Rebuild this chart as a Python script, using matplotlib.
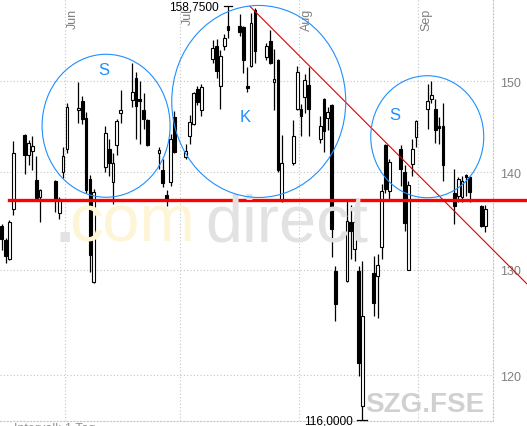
import matplotlib
matplotlib.use("Agg")
import matplotlib.pyplot as plt
import matplotlib.dates as mdates
from matplotlib.patches import Ellipse
from matplotlib.transforms import IdentityTransform
import numpy as np
import pandas as pd

plt.rcParams['font.family'] = ['Liberation Sans', 'DejaVu Sans']

# daily candles, Whit Monday closed
days = pd.bdate_range('2007-05-15', '2007-09-18').drop(pd.Timestamp('2007-05-28'))

opens = [134.4, 133.0, 131.1, 136.1, 144.0, 141.8, 142.2, 139.2, 137.4, 139.1, 135.7, 140.0,
         142.5, 146.8, 147.8, 145.9, 139.3, 128.8, 140.5, 142.5, 138.9, 142.9, 146.4, 147.9,
         150.3, 148.0, 146.7, 145.6, 142.0, 140.2, 137.6, 138.9, 146.0,
         141.6, 143.9, 145.2, 149.1, 146.7, 152.5, 154.0, 149.4, 154.0, 156.4, 156.4, 156.3,
         149.4, 151.7, 158.3, 152.8, 154.6, 149.9, 152.4, 137.0, 141.0, 146.9,
         146.9, 148.2, 149.5, 143.6, 148.0, 145.9, 147.3, 129.9, 128.9, 134.8, 132.1, 129.9,
         117.2, 129.7, 129.4, 132.3, 142.9, 138.0, 142.5, 140.0, 130.0, 140.9, 143.8,
         146.9, 148.0, 146.9, 145.0, 145.0, 137.8, 137.5, 137.4, 139.7, 139.5, 136.4, 134.4]
highs = [134.6, 133.2, 135.0, 143.3, 144.1, 143.4, 143.9, 141.7, 138.2, 139.2, 137.4, 142.7,
         147.5, 149.9, 148.3, 146.5, 139.7, 138.2, 145.0, 143.6, 142.0, 145.8, 149.0, 152.1,
         151.0, 150.0, 148.7, 145.8, 142.7, 141.4, 138.1, 144.1, 146.6,
         143.0, 146.2, 148.8, 149.4, 149.7, 154.7, 154.9, 153.6, 155.4, 158.75, 157.8, 156.4,
         151.6, 158.0, 158.5, 154.4, 155.9, 153.7, 152.5, 144.0, 145.6, 151.7,
         147.4, 150.8, 151.6, 146.1, 148.1, 147.1, 147.4, 130.4, 137.0, 136.5, 135.5, 130.4,
         130.9, 131.4, 131.6, 138.7, 143.0, 141.4, 142.9, 140.7, 139.0, 143.6, 145.6,
         149.7, 150.0, 148.0, 146.0, 147.5, 140.3, 139.5, 139.6, 139.8, 139.6, 136.5, 136.5]
lows = [132.0, 130.7, 131.0, 135.5, 139.8, 140.7, 140.2, 137.2, 134.8, 135.8, 135.1, 139.4,
        142.0, 145.3, 145.2, 137.8, 129.8, 128.7, 140.0, 139.6, 136.6, 141.8, 145.3, 147.1,
        143.6, 143.0, 144.6, 142.8, 140.3, 138.4, 136.4, 138.5, 142.0,
        141.4, 143.0, 145.1, 147.3, 146.1, 152.1, 150.4, 146.9, 153.6, 155.0, 155.2, 150.9,
        148.8, 151.6, 152.1, 152.4, 152.0, 146.7, 140.0, 136.9, 140.7, 146.8,
        143.9, 146.4, 143.9, 143.1, 142.1, 144.5, 131.3, 125.0, 128.8, 131.1, 130.9, 119.9,
        116.0, 125.5, 125.3, 131.1, 137.8, 137.1, 138.5, 133.9, 130.0, 139.6, 142.7,
        144.7, 147.5, 143.1, 143.0, 139.1, 134.6, 136.8, 136.8, 137.5, 136.8, 134.3, 133.8]
closes = [133.1, 131.4, 134.8, 142.0, 141.8, 143.1, 142.8, 137.3, 138.1, 137.2, 137.2, 141.7,
          147.1, 147.0, 145.8, 138.1, 131.5, 137.9, 144.2, 141.0, 141.0, 145.5, 146.8, 148.8,
          147.2, 147.7, 145.8, 142.9, 142.4, 138.8, 137.2, 143.6, 142.1,
          142.3, 145.4, 148.6, 147.6, 149.3, 153.8, 151.1, 152.9, 155.0, 155.9, 155.7, 152.4,
          149.2, 156.8, 153.5, 154.0, 152.1, 150.2, 140.2, 141.0, 143.9, 151.0,
          146.1, 150.1, 146.9, 145.0, 144.4, 146.5, 134.1, 126.7, 134.9, 133.9, 134.8, 121.1,
          125.5, 126.8, 130.5, 138.0, 138.2, 141.1, 140.3, 134.7, 138.6, 142.5, 145.5,
          147.8, 148.4, 144.5, 144.8, 140.7, 136.4, 139.3, 139.1, 139.5, 137.9, 134.4, 136.1]

support = 137.1
trend_dates = ['2007-07-19 05:00', '2007-09-29 10:00']
trend_prices = [158.75, 128.6]

month_starts = ['2007-06-01', '2007-07-01', '2007-08-01', '2007-09-01']
month_labels = ['Jun', 'Jul', 'Aug', 'Sep']
y_ticks = [120, 130, 140, 150]

# head-and-shoulders marks: label, label date, label price, ring centre date, ring centre price
pattern_labels = ['S', 'K', 'S']
label_dates = ['2007-06-11 05:00', '2007-07-18 01:30', '2007-08-26 00:00']
label_prices = [151.3, 146.0, 146.3]
ring_dates = ['2007-06-11 17:00', '2007-07-21 12:00', '2007-09-03 10:00']
ring_prices = [145.0, 147.7, 143.8]
ring_sizes = [(128, 143), (174, 192), (113, 122)]

W, H = 527, 427
fig = plt.figure(figsize=(W / 100, H / 100), dpi=100)
ax = fig.add_axes([0, 5 / H, 493 / W, 422 / H])

o = np.array(opens)
h = np.array(highs)
l = np.array(lows)
c = np.array(closes)
x = mdates.date2num(days) + 0.5
up = c >= o

jun1 = mdates.date2num(pd.Timestamp('2007-06-01'))
ax.set_xlim(jun1 - 16.94, jun1 + 111.55)
ax.set_yscale('log')
ax.set_ylim(115.9, 159.64)

# watermark
gray_wm = '#e2e2e2'
yel_wm = '#fdf5d6'
fig.text(56 / W, 1 - 242 / H, '.', fontsize=48, color=gray_wm, fontweight='bold', zorder=0)
fig.text(69 / W, 1 - 242 / H, 'com', fontsize=48, color=yel_wm, zorder=0)
fig.text(205 / W, 1 - 242 / H, 'direct', fontsize=48, color=gray_wm, zorder=0)
fig.text(365 / W, 1 - 412 / H, 'SZG.FSE', fontsize=20, color='#d0d0d0', fontweight='bold', zorder=0)
ax.patch.set_alpha(0)

ax.vlines(x, l, h, color='black', lw=0.9, zorder=3)
ax.bar(x[up], c[up] - o[up], bottom=o[up], width=0.72, color='white',
       edgecolor='black', lw=0.8, zorder=4)
ax.bar(x[~up], o[~up] - c[~up], bottom=c[~up], width=0.72, color='black',
       edgecolor='black', lw=0.8, zorder=4)

# high / low markers
ih = int(np.argmax(h))
il = int(np.argmin(l))
ax.plot([x[ih] - 1.05, x[ih] + 1.05], [h[ih], h[ih]], color='black', lw=0.9, zorder=5)
ax.plot([x[il] - 1.3, x[il] + 1.3], [l[il], l[il]], color='black', lw=0.9, zorder=5,
        clip_on=False)
ax.annotate(f'{h[ih]:.4f}'.replace('.', ','), xy=(x[ih], h[ih]), xytext=(-9, 0),
            textcoords='offset pixels', ha='right', va='center', fontsize=8.6,
            color='black', annotation_clip=False)
ax.annotate(f'{l[il]:.4f}'.replace('.', ','), xy=(x[il], l[il]), xytext=(-10, -1),
            textcoords='offset pixels', ha='right', va='center', fontsize=8.6,
            color='black', annotation_clip=False)

# support and trend lines
ax.plot([mdates.date2num(pd.Timestamp('2007-05-17 12:00')), mdates.date2num(pd.Timestamp('2007-10-05'))],
        [support, support], color='#ff0000', lw=2.4, zorder=6, clip_on=False)
ax.plot(mdates.date2num(pd.to_datetime(trend_dates)), trend_prices, color='#e00000',
        lw=0.8, zorder=6, clip_on=False)

# grid
grid_style = dict(color='#c4c4c4', lw=0.8, ls=(0, (1, 2)))
ax.set_yticks(y_ticks)
ax.set_yticklabels([str(t) for t in y_ticks])
ax.yaxis.set_minor_locator(matplotlib.ticker.NullLocator())
ax.yaxis.tick_right()
ax.tick_params(axis='y', length=0, pad=5, labelsize=9, labelcolor='#808080')
ax.set_xticks(mdates.date2num(pd.to_datetime(month_starts)))
ax.tick_params(axis='x', length=0, labelbottom=False)
ax.grid(True, **grid_style)
ax.set_axisbelow(True)
for s in ['top', 'left']:
    ax.spines[s].set_visible(False)
for s in ['right', 'bottom']:
    ax.spines[s].set_color('#c4c4c4')
    ax.spines[s].set_linestyle((0, (1, 2)))
    ax.spines[s].set_linewidth(0.8)

for d, lab in zip(month_starts, month_labels):
    ax.annotate(lab, xy=(mdates.date2num(pd.Timestamp(d)), 1), xycoords=('data', 'axes fraction'),
                xytext=(2, -9), textcoords='offset pixels', rotation=90, ha='left', va='top',
                fontsize=9, color='#808080')

# head-and-shoulders rings
blue = '#1e8fff'
for d, p, (w, hh) in zip(ring_dates, ring_prices, ring_sizes):
    cx, cy = ax.transData.transform((mdates.date2num(pd.Timestamp(d)), p))
    fig.add_artist(Ellipse((cx, cy), w, hh, transform=IdentityTransform(), fill=False,
                           ec=blue, lw=0.8, zorder=7))
for lab, d, p in zip(pattern_labels, label_dates, label_prices):
    ax.text(mdates.date2num(pd.Timestamp(d)), p, lab, ha='center', va='center',
            fontsize=12, color=blue, zorder=7)

fig.text(14 / W, 1 - 423 / H, 'Intervall: 1 Tag', fontsize=9, color='#909090', va='top')

fig.savefig('out.png', dpi=100)
